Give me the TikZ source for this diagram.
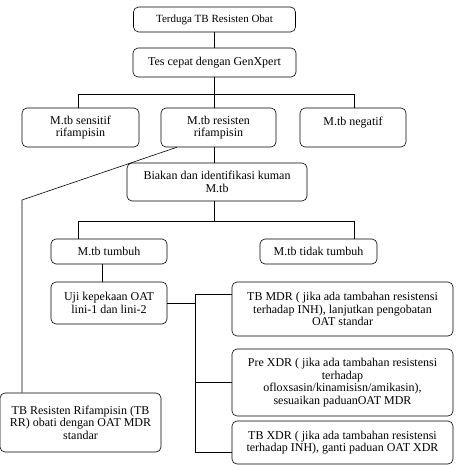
\documentclass[tikz,border=0pt]{standalone}
\usepackage{fontspec}
\setmainfont{Liberation Serif}
\usetikzlibrary{calc}

\tikzset{
	box/.style={draw, rounded corners=5pt, align=center, inner sep=1pt,
		font=\fontsize{12}{12.5}\selectfont},
}

\begin{document}
\begin{tikzpicture}[x=1pt,y=-1pt,line width=0.6pt]
	\useasboundingbox (0,0) rectangle (460,465);
	\pgfmathsetmacro\BW{221}
	\coordinate (busA) at (78,94);
	\coordinate (busAr) at (354,94);
	\coordinate (busB) at (78,221);
	\coordinate (busBr) at (354,221);
	\coordinate (drop) at (102,270);
	\coordinate (split) at (195,303);
	\coordinate (splitT) at (195,294);
	\coordinate (splitB) at (195,452);
	\coordinate (bend) at (22,200);
	
	\node[box, minimum width=162, minimum height=25, font=\fontsize{11}{12}\selectfont] (terduga) at (214.5,19.5) {Terduga TB Resisten Obat};
	\node[box, minimum width=163, minimum height=29] (tes) at (214.5,62.5) {Tes cepat dengan GenXpert};
	\node[box, minimum width=117, minimum height=39] (sensitif) at (80.5,127.5) {M.tb sensitif\\rifampisin};
	\node[box, minimum width=115, minimum height=39] (resisten) at (218.5,127.5) {M.tb resisten\\rifampisin};
	\node[box, minimum width=106, minimum height=39] (negatif) at (353,127.5) {M.tb negatif\\\mbox{}};
	\node[box, minimum width=180, minimum height=38] (biakan) at (217,182) {Biakan dan identifikasi kuman\\M.tb};
	\node[box, minimum width=116, minimum height=25] (tumbuh) at (109,251.5) {M.tb tumbuh};
	\node[box, minimum width=117, minimum height=25] (tidak) at (318.5,251.5) {M.tb tidak tumbuh};
	\node[box, minimum width=116, minimum height=42] (uji) at (109,303) {Uji kepekaan OAT\\lini-1 dan lini-2};
	\node[box, minimum width=\BW, minimum height=54] (mdr) at (342.5,309) {TB MDR ( jika ada tambahan resistensi\\terhadap INH), lanjutkan pengobatan\\OAT standar};
	\node[box, minimum width=\BW, minimum height=67] (prexdr) at (342.5,382.5) {Pre XDR ( jika ada tambahan resistensi\\terhadap\\ofloxsasin/kinamisisn/amikasin),\\sesuaikan paduanOAT MDR};
	\node[box, minimum width=\BW, minimum height=43] (xdr) at (342.5,442.5) {TB XDR ( jika ada tambahan resistensi\\terhadap INH), ganti paduan OAT XDR};
	\node[box, minimum width=161, minimum height=59] (rr) at (80.5,422.5) {TB Resisten Rifampisin (TB\\RR) obati dengan OAT MDR\\standar};
	
	% alur utama
	\draw (terduga) -- (tes);
	\draw (tes.south) -- (tes.south |- resisten.north);
	\draw (busA |- sensitif.north) -- (busA) -- (busAr) -- (busAr |- negatif.north);
	\draw (tes.south |- resisten.south) -- (tes.south |- biakan.north);
	\draw (tes.south |- biakan.south) -- (tes.south |- busB);
	\draw (busB |- tumbuh.north) -- (busB) -- (busBr) -- (busBr |- tidak.north);
	\draw (drop |- tumbuh.south) -- (drop |- uji.north);
	
	% cabang hasil uji
	\draw (uji.east |- split) -- (split);
	\draw (splitT) -- (splitB);
	\draw (splitT) -- (splitT -| mdr.west);
	\draw (split |- prexdr.west) -- (prexdr.west);
	\draw (splitB) -- (splitB -| xdr.west);
	
	% resisten rifampisin
	\draw ($(resisten.south west)+(16,0)$) -- (bend) -- (bend |- rr.north);
\end{tikzpicture}
\end{document}
